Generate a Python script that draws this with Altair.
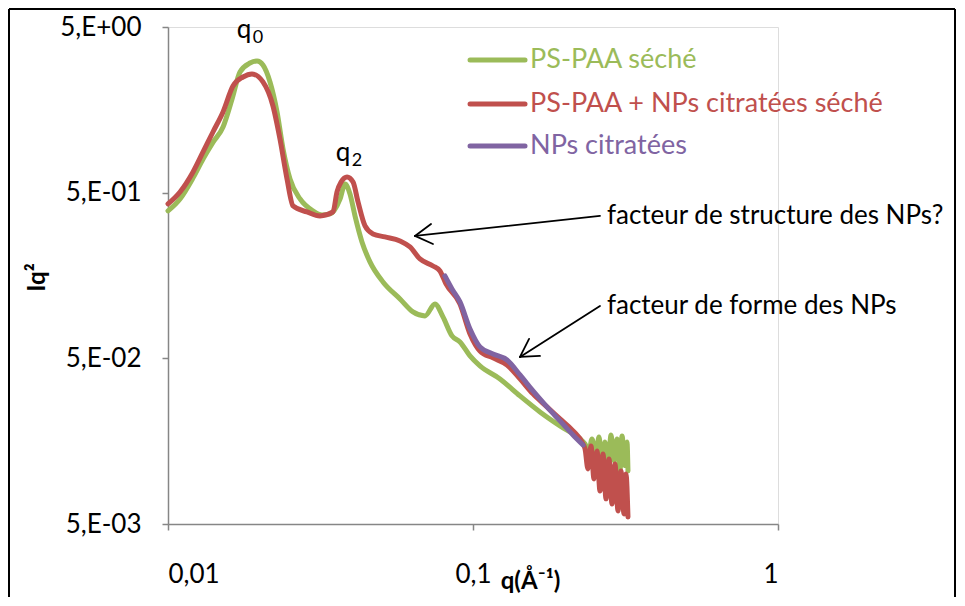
import altair as alt
import pandas as pd

FONT = "Lato"

SERIES = ["PS-PAA séché", "PS-PAA + NPs citratées séché", "NPs citratées"]
COLORS = ["#9BBB59", "#C0504D", "#8064A2"]

GREEN_Q = [0.01, 0.01095, 0.01208, 0.01303, 0.01404, 0.01515, 0.01622, 0.01722, 0.01857, 0.01959,
           0.02048, 0.0216, 0.02278, 0.02383, 0.02512, 0.0271, 0.02988, 0.03199, 0.03397, 0.03664,
           0.03805, 0.03951, 0.04103, 0.04325, 0.04594, 0.05069, 0.05764, 0.06357, 0.06963, 0.07504,
           0.07972, 0.08533, 0.09064, 0.09777, 0.1054, 0.1226, 0.1426, 0.1658, 0.1929, 0.2244,
           0.2330, 0.2400, 0.2455, 0.2531, 0.2588, 0.2649, 0.2709, 0.2771, 0.2835, 0.2899,
           0.2966, 0.3034, 0.3080, 0.3151, 0.3198, 0.3222]
GREEN_I = [0.388, 0.458, 0.614, 0.799, 1.006, 1.246, 1.839, 2.676, 3.03, 3.12,
           2.95, 2.33, 1.535, 0.918, 0.605, 0.458, 0.388, 0.367, 0.372, 0.458,
           0.564, 0.491, 0.362, 0.252, 0.191, 0.1445, 0.1141, 0.0953, 0.0902, 0.1065,
           0.0889, 0.0683, 0.0628, 0.0517, 0.045, 0.03756, 0.02965, 0.02374, 0.01954, 0.01632,
           0.01522, 0.01381, 0.01632, 0.01290, 0.01677, 0.01202, 0.01565, 0.01106, 0.01725, 0.01202,
           0.01632, 0.01046, 0.01701, 0.01126, 0.01565, 0.01046]

RED_Q = [0.01, 0.01095, 0.01208, 0.01303, 0.01404, 0.01515, 0.01633, 0.01762, 0.01885, 0.02048,
         0.02209, 0.02329, 0.02456, 0.0257, 0.02855, 0.0315, 0.03475, 0.03582, 0.03693, 0.03864,
         0.04043, 0.04198, 0.04426, 0.04701, 0.05145, 0.05764, 0.06214, 0.06702, 0.07393, 0.07794,
         0.08155, 0.09064, 0.09777, 0.1054, 0.1163, 0.1293, 0.1426, 0.1573, 0.1748, 0.1929,
         0.2128, 0.2295, 0.2330, 0.2382, 0.2437, 0.2493, 0.2550, 0.2608, 0.2668, 0.2730,
         0.2792, 0.2856, 0.2921, 0.2988, 0.3056, 0.3127, 0.3174, 0.3222]
RED_I = [0.4276, 0.505, 0.667, 0.881, 1.162, 1.535, 2.203, 2.496, 2.603, 2.33,
         1.668, 1.054, 0.605, 0.4157, 0.3825, 0.3617, 0.3825, 0.505, 0.580, 0.622,
         0.580, 0.4395, 0.3148, 0.2817, 0.2702, 0.2556, 0.2351, 0.199, 0.1805, 0.1684,
         0.1406, 0.1065, 0.0702, 0.0554, 0.0503, 0.0456, 0.03756, 0.0305, 0.02544, 0.02155,
         0.01824, 0.01522, 0.01420, 0.01075, 0.01480, 0.00936, 0.01381, 0.00792, 0.01324, 0.00709,
         0.01236, 0.00660, 0.01152, 0.00600, 0.01046, 0.00575, 0.01003, 0.00552]

PURPLE_Q = [0.0809, 0.08533, 0.09064, 0.09777, 0.1054, 0.1163, 0.1293, 0.1426, 0.1573, 0.1748,
            0.1929, 0.2128, 0.2295]
PURPLE_I = [0.1572, 0.1312, 0.1095, 0.0752, 0.0586, 0.0531, 0.0489, 0.0397, 0.03178, 0.02544,
            0.02095, 0.01725, 0.01501]

# legend (drawn inside the plot, in data coordinates)
LEG_Q1, LEG_Q2, LEG_QT = 0.0978, 0.1481, 0.1538
LEG_I = [3.16, 1.715, 0.957]

# peak labels
PEAK_LABELS = ["q", "q"]
PEAK_SUBS = ["0", "2"]
PEAK_Q = [0.01775, 0.03749]
PEAK_I = [4.29, 0.777]

# annotations
ANN_TEXT = ["facteur de structure des NPs?", "facteur de forme des NPs"]
ANN_Q = [0.2749, 0.2749]
ANN_I = [0.3617, 0.1036]
# arrows: tail -> tip, plus the two wings of each open arrowhead
ARROW_TAIL_Q = [0.2608, 0.2608]
ARROW_TAIL_I = [0.3617, 0.1036]
ARROW_TIP_Q = [0.06452, 0.1426]
ARROW_TIP_I = [0.274, 0.05098]
WING_A_Q = [0.07393, 0.1658]
WING_A_I = [0.2451, 0.0517]
WING_B_Q = [0.07284, 0.1527]
WING_B_I = [0.3236, 0.0655]

rows = []
for name, qs, Is in [(SERIES[0], GREEN_Q, GREEN_I), (SERIES[1], RED_Q, RED_I), (SERIES[2], PURPLE_Q, PURPLE_I)]:
    for k, (q, v) in enumerate(zip(qs, Is)):
        rows.append({"series": name, "q": q, "I": v, "idx": k})
df = pd.DataFrame(rows)

xscale = alt.Scale(type="log", domain=[0.01, 1], nice=False)
yscale = alt.Scale(type="log", domain=[0.005, 5], nice=False)
cscale = alt.Scale(domain=SERIES, range=COLORS)

xaxis = alt.Axis(values=[0.01, 0.1, 1], labelExpr="replace(format(datum.value, '~g'), '.', ',')",
                 grid=False, domainColor="#868686", tickColor="#868686", domainWidth=1.5, tickWidth=1.5,
                 tickSize=6, labelPadding=31, labelFont=FONT, labelFontSize=26, labelColor="black",
                 title="q(Å⁻¹)", titleFont=FONT, titleFontSize=24, titleFontWeight="bold", titleColor="black",
                 titleX=362, titleY=57, titleBaseline="middle", titleAlign="center")
yaxis = alt.Axis(values=[0.005, 0.05, 0.5, 5],
                 labelExpr="'5,E' + (datum.value >= 1 ? '+00' : '-0' + round(-log(datum.value / 5) / LN10))",
                 grid=False, domainColor="#868686", tickColor="#868686", domainWidth=1.5, tickWidth=1.5,
                 tickSize=6, labelPadding=21, labelFont=FONT, labelFontSize=26, labelColor="black",
                 title="Iq²", titleFont=FONT, titleFontSize=24, titleFontWeight="bold", titleColor="black",
                 titleAngle=270, titleX=-131, titleY=250, titleBaseline="middle", titleAlign="center")

base = alt.Chart(df)
lines = base.mark_line(strokeWidth=5, interpolate="monotone", strokeJoin="round", strokeCap="round").encode(
    x=alt.X("q:Q", scale=xscale, axis=xaxis),
    y=alt.Y("I:Q", scale=yscale, axis=yaxis),
    color=alt.Color("series:N", scale=cscale, legend=None),
    detail="series:N",
    order="idx:Q",
)

leg_df = pd.DataFrame({"series": SERIES, "q1": [LEG_Q1] * 3, "q2": [LEG_Q2] * 3, "qt": [LEG_QT] * 3, "I": LEG_I})
leg_lines = alt.Chart(leg_df).mark_rule(strokeWidth=5, strokeCap="round").encode(
    x=alt.X("q1:Q", scale=xscale), x2="q2:Q", y=alt.Y("I:Q", scale=yscale),
    color=alt.Color("series:N", scale=cscale, legend=None))
leg_text = alt.Chart(leg_df).mark_text(align="left", baseline="middle", font=FONT, fontSize=27).encode(
    x=alt.X("qt:Q", scale=xscale), y=alt.Y("I:Q", scale=yscale), text="series:N",
    color=alt.Color("series:N", scale=cscale, legend=None))

peak_df = pd.DataFrame({"t": PEAK_LABELS, "s": PEAK_SUBS, "q": PEAK_Q, "I": PEAK_I})
peak_q = alt.Chart(peak_df).mark_text(align="center", baseline="alphabetic", font=FONT, fontSize=26, color="black").encode(
    x=alt.X("q:Q", scale=xscale), y=alt.Y("I:Q", scale=yscale), text="t:N")
peak_s = alt.Chart(peak_df).mark_text(align="center", baseline="alphabetic", font=FONT, fontSize=18, color="black",
                                      dx=14, dy=5).encode(
    x=alt.X("q:Q", scale=xscale), y=alt.Y("I:Q", scale=yscale), text="s:N")

ann_df = pd.DataFrame({"t": ANN_TEXT, "q": ANN_Q, "I": ANN_I})
ann = alt.Chart(ann_df).mark_text(align="left", baseline="middle", font=FONT, fontSize=26, color="black").encode(
    x=alt.X("q:Q", scale=xscale), y=alt.Y("I:Q", scale=yscale), text="t:N")

arr_df = pd.DataFrame({
    "x1": ARROW_TAIL_Q + WING_A_Q + WING_B_Q,
    "y1": ARROW_TAIL_I + WING_A_I + WING_B_I,
    "x2": ARROW_TIP_Q * 3,
    "y2": ARROW_TIP_I * 3,
})
arrows = alt.Chart(arr_df).mark_rule(color="black", strokeWidth=1.8, strokeCap="round").encode(
    x=alt.X("x1:Q", scale=xscale), y=alt.Y("y1:Q", scale=yscale), x2="x2:Q", y2="y2:Q")

frame_left = alt.Chart(leg_df).mark_rule(color="black", strokeWidth=2).encode(
    x=alt.value(-159), y=alt.value(-18), y2=alt.value(570))
frame_top = alt.Chart(leg_df).mark_rule(color="black", strokeWidth=2).encode(
    x=alt.value(-159), x2=alt.value(787), y=alt.value(-18))
frame_right = alt.Chart(leg_df).mark_rule(color="black", strokeWidth=2).encode(
    x=alt.value(787), y=alt.value(-18), y2=alt.value(570))

chart = alt.layer(
    frame_left, frame_top, frame_right,
    lines, leg_lines, leg_text, peak_q, peak_s, ann, arrows,
).properties(width=610, height=497, padding=0).configure_view(stroke=None).configure(background="white")

chart.save("out.html", embed_options={"renderer": "svg", "actions": False})
